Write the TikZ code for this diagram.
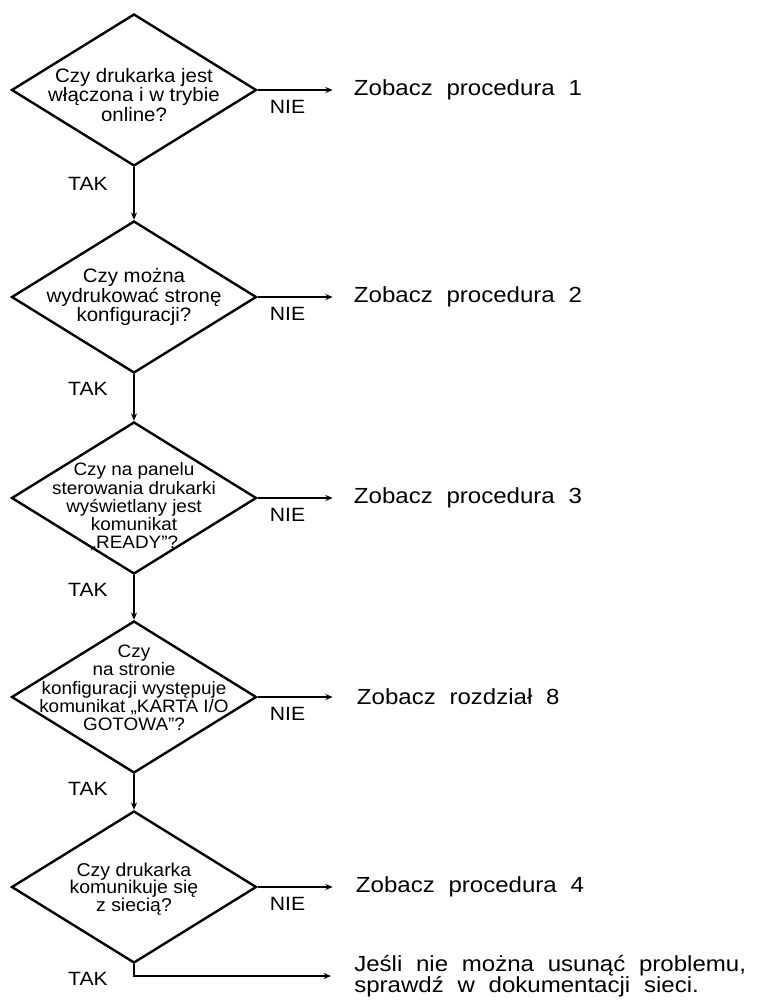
\documentclass[tikz,border=0pt]{standalone}
\usepackage{fontspec}
\setmainfont{Liberation Sans}
\newfontfamily\askfont[FakeStretch=1.05]{Liberation Sans}
\newfontfamily\seefont[FakeStretch=1.1]{Liberation Sans}
\newfontfamily\lblfont[FakeStretch=1.1]{Liberation Sans}
\usetikzlibrary{arrows.meta,positioning,shapes.geometric}
\newlength{\pxu}
\setlength{\pxu}{0.75pt}
\newcommand{\widewords}{\setlength{\spaceskip}{10.3pt}\relax}

\begin{document}
\begin{tikzpicture}[x=\pxu, y=-\pxu, >={Stealth[length=5.5pt,width=4.5pt]},
 decision/.style={draw,diamond,line width=1.8pt,minimum width=245\pxu,minimum height=152\pxu,inner sep=0pt},
 ask/.style={align=center,inner sep=0pt,font=\askfont\fontsize{14.6pt}{14.8pt}\selectfont},
 asksmall/.style={align=center,inner sep=0pt,font=\askfont\fontsize{13.5pt}{13.7pt}\selectfont},
 asklast/.style={align=center,inner sep=0pt,font=\askfont\fontsize{13.9pt}{13.1pt}\selectfont},
 see/.style={anchor=west,inner sep=0pt,align=left,font=\seefont\fontsize{16.4pt}{15.5pt}\selectfont\widewords},
 lbl/.style={inner sep=0pt,font=\lblfont\fontsize{14.4pt}{14.4pt}\selectfont},
 conn/.style={->,line width=1pt}]
\useasboundingbox (0,0) rectangle (759,1008);
% decisions
\node[decision] (q1) at (134,90) {};
\node[decision] (q2) at (134,297) {};
\node[decision] (q3) at (134,498) {};
\node[decision] (q4) at (134,697) {};
\node[decision] (q5) at (134,887) {};
\node[ask, yshift=-5\pxu] (t1) at (q1) {Czy drukarka jest\\włączona i w trybie\\online?};
\node[ask] (t2) at (q2) {Czy można\\wydrukować stronę\\konfiguracji?};
\node[asksmall, yshift=-9\pxu] (t3) at (q3) {Czy na panelu\\sterowania drukarki\\wyświetlany jest\\komunikat\\„READY”?};
\node[asksmall, yshift=9\pxu] (t4) at (q4) {Czy\\na stronie\\konfiguracji występuje\\komunikat „KARTA I/O\\GOTOWA”?};
\node[asklast, yshift=-2\pxu] (t5) at (q5) {Czy drukarka\\komunikuje się\\z siecią?};
% answers
\node[see, right=96\pxu of q1.east] (a1) {Zobacz procedura 1};
\node[see, right=96\pxu of q2.east] (a2) {Zobacz procedura 2};
\node[see, right=96\pxu of q3.east] (a3) {Zobacz procedura 3};
\node[see, right=99\pxu of q4.east] (a4) {Zobacz rozdział 8};
\node[see, right=98\pxu of q5.east] (a5) {Zobacz procedura 4};
\node[see] (a6) at (354,976) {Jeśli nie można usunąć problemu,\\sprawdź w dokumentacji sieci.};
% labels
\node[lbl, below right=10\pxu and 12\pxu of q1.east] (n1) {NIE};
\node[lbl, below right=10\pxu and 12\pxu of q2.east] (n2) {NIE};
\node[lbl, below right=10\pxu and 12\pxu of q3.east] (n3) {NIE};
\node[lbl, below right=10\pxu and 12\pxu of q4.east] (n4) {NIE};
\node[lbl, below right=10\pxu and 12\pxu of q5.east] (n5) {NIE};
\node[lbl, below left=10\pxu and 26\pxu of q1.south] (y1) {TAK};
\node[lbl, below left=8\pxu and 26\pxu of q2.south] (y2) {TAK};
\node[lbl, below left=8\pxu and 26\pxu of q3.south] (y3) {TAK};
\node[lbl, below left=8\pxu and 26\pxu of q4.south] (y4) {TAK};
\node[lbl, below left=8\pxu and 26\pxu of q5.south] (y5) {TAK};
% connectors
\draw[conn] (q1.south) -- (q2.north);
\draw[conn] (q2.south) -- (q3.north);
\draw[conn] (q3.south) -- (q4.north);
\draw[conn] (q4.south) -- (q5.north);
\draw[conn, shorten >=21\pxu] (q1.east) -- (a1.west);
\draw[conn, shorten >=21\pxu] (q2.east) -- (a2.west);
\draw[conn, shorten >=21\pxu] (q3.east) -- (a3.west);
\draw[conn, shorten >=24\pxu] (q4.east) -- (a4.west);
\draw[conn, shorten >=23\pxu] (q5.east) -- (a5.west);
\draw[conn, shorten >=23\pxu] (q5.south) |- (a6.west);
\end{tikzpicture}
\end{document}
